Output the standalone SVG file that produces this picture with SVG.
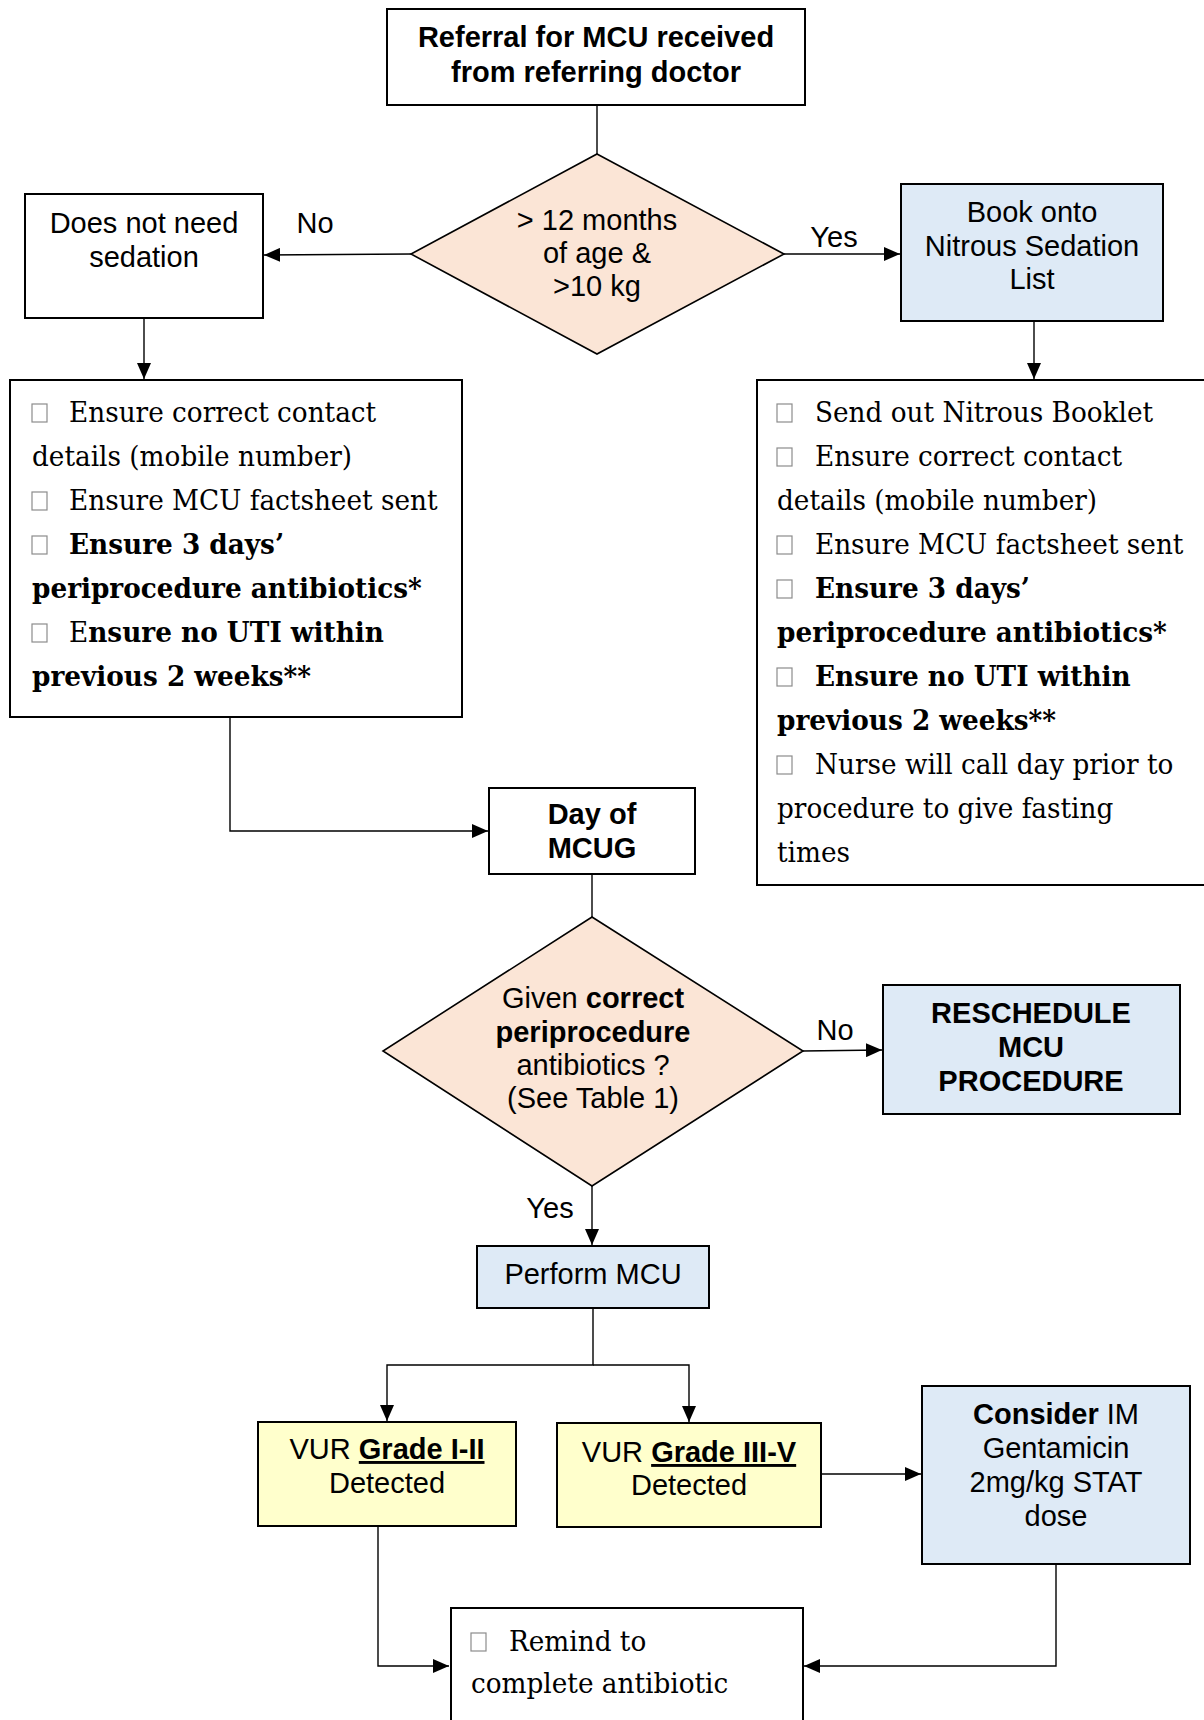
<svg xmlns="http://www.w3.org/2000/svg" width="1204" height="1720" viewBox="0 0 1204 1720">
<style>
.box{stroke:#000;stroke-width:2;}
.white{fill:#fff;}
.peach{fill:#FBE5D6;stroke:#000;stroke-width:1.6;}
.blue{fill:#DEEAF6;}
.yellow{fill:#FFFFCC;}
.sans{font-family:"Liberation Sans",Arial,sans-serif;font-size:29px;fill:#000;}
.b{font-weight:bold;}
.mid{text-anchor:middle;}
.serif{font-family:"DejaVu Serif","Liberation Serif",serif;font-size:28px;fill:#000;}
.cb{fill:none;stroke:#8c8c8c;stroke-width:1.2;}
.conn{fill:none;stroke:#000;stroke-width:1.4;}
</style>
<defs>
<marker id="arr" markerUnits="userSpaceOnUse" markerWidth="16" markerHeight="14" refX="16" refY="7" orient="auto">
<path d="M0,0 L16,7 L0,14 Z" fill="#000"/>
</marker>
</defs>
<rect width="1204" height="1720" fill="#fff"/>

<g id="connectors">
<line class="conn" x1="597" y1="105" x2="597" y2="154"/>
<line class="conn" x1="411" y1="254" x2="264" y2="255" marker-end="url(#arr)"/>
<line class="conn" x1="784" y1="254" x2="900" y2="254" marker-end="url(#arr)"/>
<line class="conn" x1="144" y1="318" x2="144" y2="379" marker-end="url(#arr)"/>
<line class="conn" x1="1034" y1="321" x2="1034" y2="379" marker-end="url(#arr)"/>
<path class="conn" d="M230,717 V831 H488" marker-end="url(#arr)"/>
<line class="conn" x1="592" y1="874" x2="592" y2="917"/>
<line class="conn" x1="803" y1="1051" x2="882" y2="1050" marker-end="url(#arr)"/>
<line class="conn" x1="592" y1="1186" x2="592" y2="1245" marker-end="url(#arr)"/>
<path class="conn" d="M593,1308 V1365 H387 V1421" marker-end="url(#arr)"/>
<path class="conn" d="M593,1365 H689 V1422" marker-end="url(#arr)"/>
<line class="conn" x1="821" y1="1474" x2="921" y2="1474" marker-end="url(#arr)"/>
<path class="conn" d="M378,1526 V1666 H449" marker-end="url(#arr)"/>
<path class="conn" d="M1056,1564 V1666 H804" marker-end="url(#arr)"/>
<text class="sans" x="315" y="233" text-anchor="middle">No</text>
<text class="sans" x="834" y="247" text-anchor="middle">Yes</text>
<text class="sans" x="835" y="1040" text-anchor="middle">No</text>
<text class="sans" x="550" y="1218" text-anchor="middle">Yes</text>
</g>

<g id="referral">
<rect class="box white" x="387" y="9" width="418" height="96"/>
<text class="sans b mid" x="596" y="47">Referral for MCU received</text>
<text class="sans b mid" x="596" y="82">from referring doctor</text>
</g>

<g id="age-check">
<polygon class="peach" points="597,154 784,254 597,354 411,254"/>
<text class="sans mid" x="597" y="230">&gt; 12 months</text>
<text class="sans mid" x="597" y="263">of age &amp;</text>
<text class="sans mid" x="597" y="296">&gt;10 kg</text>
</g>

<g id="no-sedation">
<rect class="box white" x="25" y="194" width="238" height="124"/>
<text class="sans mid" x="144" y="233">Does not need</text>
<text class="sans mid" x="144" y="267">sedation</text>
</g>

<g id="nitrous-list">
<rect class="box blue" x="901" y="184" width="262" height="137"/>
<text class="sans mid" x="1032" y="222">Book onto</text>
<text class="sans mid" x="1032" y="256">Nitrous Sedation</text>
<text class="sans mid" x="1032" y="289">List</text>
</g>

<g id="checklist-no-sedation">
<rect class="box white" x="10" y="380" width="452" height="337"/>
<rect class="cb" x="32" y="404" width="15" height="18"/>
<rect class="cb" x="32" y="492" width="15" height="18"/>
<rect class="cb" x="32" y="536" width="15" height="18"/>
<rect class="cb" x="32" y="624" width="15" height="18"/>
<g transform="translate(32,0) scale(0.94,1)">
<text class="serif" x="39.4" y="422">Ensure correct contact</text>
<text class="serif" x="0" y="466">details (mobile number)</text>
<text class="serif" x="39.4" y="510">Ensure MCU factsheet sent</text>
<text class="serif b" x="39.4" y="554">Ensure 3 days’</text>
<text class="serif b" x="0" y="598">periprocedure antibiotics*</text>
<text class="serif" x="39.4" y="642">E<tspan class="b">nsure no UTI within</tspan></text>
<text class="serif b" x="0" y="686">previous 2 weeks**</text>
</g>
</g>

<g id="checklist-nitrous">
<rect class="box white" x="757" y="380" width="460" height="505"/>
<rect class="cb" x="777" y="404" width="15" height="18"/>
<rect class="cb" x="777" y="448" width="15" height="18"/>
<rect class="cb" x="777" y="536" width="15" height="18"/>
<rect class="cb" x="777" y="580" width="15" height="18"/>
<rect class="cb" x="777" y="668" width="15" height="18"/>
<rect class="cb" x="777" y="756" width="15" height="18"/>
<g transform="translate(777,0) scale(0.94,1)">
<text class="serif" x="40.4" y="422">Send out Nitrous Booklet</text>
<text class="serif" x="40.4" y="466">Ensure correct contact</text>
<text class="serif" x="0" y="510">details (mobile number)</text>
<text class="serif" x="40.4" y="554">Ensure MCU factsheet sent</text>
<text class="serif b" x="40.4" y="598">Ensure 3 days’</text>
<text class="serif b" x="0" y="642">periprocedure antibiotics*</text>
<text class="serif b" x="40.4" y="686">Ensure no UTI within</text>
<text class="serif b" x="0" y="730">previous 2 weeks**</text>
<text class="serif" x="40.4" y="774">Nurse will call day prior to</text>
<text class="serif" x="0" y="818">procedure to give fasting</text>
<text class="serif" x="0" y="862">times</text>
</g>
</g>

<g id="day-of-mcug">
<rect class="box white" x="489" y="788" width="206" height="86"/>
<text class="sans b mid" x="592" y="824">Day of</text>
<text class="sans b mid" x="592" y="858">MCUG</text>
</g>

<g id="antibiotics-check">
<polygon class="peach" points="592,917 803,1051 592,1186 383,1051"/>
<text class="sans mid" x="593" y="1008">Given <tspan class="b">correct</tspan></text>
<text class="sans b mid" x="593" y="1042">periprocedure</text>
<text class="sans mid" x="593" y="1075">antibiotics ?</text>
<text class="sans mid" x="593" y="1108">(See Table 1)</text>
</g>

<g id="reschedule">
<rect class="box blue" x="883" y="985" width="297" height="129"/>
<text class="sans b mid" x="1031" y="1023">RESCHEDULE</text>
<text class="sans b mid" x="1031" y="1057">MCU</text>
<text class="sans b mid" x="1031" y="1091">PROCEDURE</text>
</g>

<g id="perform-mcu">
<rect class="box blue" x="477" y="1246" width="232" height="62"/>
<text class="sans mid" x="593" y="1284">Perform MCU</text>
</g>

<g id="vur-low">
<rect class="box yellow" x="258" y="1422" width="258" height="104"/>
<text class="sans mid" x="387" y="1459">VUR <tspan class="b" text-decoration="underline">Grade I-II</tspan></text>
<text class="sans mid" x="387" y="1493">Detected</text>
</g>

<g id="vur-high">
<rect class="box yellow" x="557" y="1423" width="264" height="104"/>
<text class="sans mid" x="689" y="1462">VUR <tspan class="b" text-decoration="underline">Grade III-V</tspan></text>
<text class="sans mid" x="689" y="1495">Detected</text>
</g>

<g id="gentamicin">
<rect class="box blue" x="922" y="1386" width="268" height="178"/>
<text class="sans mid" x="1056" y="1424"><tspan class="b">Consider</tspan> IM</text>
<text class="sans mid" x="1056" y="1458">Gentamicin</text>
<text class="sans mid" x="1056" y="1492">2mg/kg STAT</text>
<text class="sans mid" x="1056" y="1526">dose</text>
</g>

<g id="remind">
<rect class="box white" x="451" y="1608" width="352" height="130"/>
<rect class="cb" x="471" y="1633" width="15" height="18"/>
<g transform="translate(471,0) scale(0.94,1)">
<text class="serif" x="40.4" y="1651">Remind to</text>
<text class="serif" x="0" y="1693">complete antibiotic</text>
</g>
</g>
</svg>
